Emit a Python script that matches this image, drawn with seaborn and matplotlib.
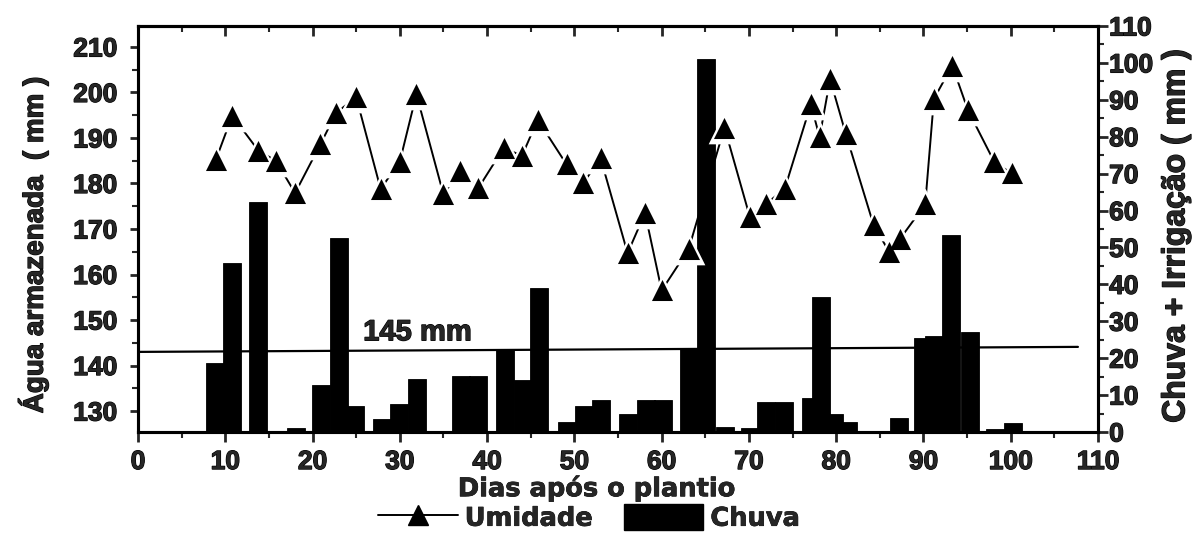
import matplotlib
matplotlib.use("Agg")
import matplotlib.pyplot as plt
import matplotlib.patheffects as pe
import seaborn as sns
from matplotlib.ticker import MultipleLocator
from matplotlib.lines import Line2D
from matplotlib.patches import Patch

# Soil water storage (left axis)
dias_umidade = [8.9, 10.8, 13.8, 15.8, 18.0, 20.9, 22.7, 25.0, 27.8, 30.0,
                31.9, 35.0, 36.9, 39.0, 41.9, 44.0, 45.8, 49.1, 51.0, 53.0,
                56.1, 58.1, 60.0, 63.1, 67.2, 70.1, 72.0, 74.1, 77.1, 78.1,
                79.3, 81.1, 84.3, 86.1, 87.3, 90.2, 91.2, 93.3, 95.1, 98.1,
                100.1]
umidade = [185.1, 194.9, 187.2, 185.0, 177.9, 188.6, 195.5, 199.0, 178.8, 184.8,
           199.6, 177.6, 182.8, 179.0, 187.8, 186.1, 194.0, 184.2, 180.0, 185.6,
           164.7, 173.5, 156.5, 165.6, 192.3, 172.7, 175.6, 178.8, 197.4, 190.2,
           202.9, 190.9, 170.8, 164.9, 167.8, 175.4, 198.6, 205.9, 196.1, 184.8,
           182.2]

# Rain + irrigation (right axis)
dias_chuva = [8.8, 10.8, 13.8, 18.1, 21.0, 23.0, 24.9, 28.0, 29.9, 32.0,
              37.0, 39.0, 42.1, 44.1, 46.0, 49.1, 51.1, 53.1, 56.2, 58.2,
              60.2, 63.1, 65.1, 67.3, 70.1, 72.0, 74.0, 77.1, 78.3, 79.8,
              81.3, 87.2, 90.0, 91.2, 93.2, 95.3, 98.2, 100.3]
chuva = [18.7, 45.8, 62.3, 1.0, 12.7, 52.5, 7.0, 3.5, 7.6, 14.4,
         15.2, 15.2, 22.2, 14.0, 39.0, 2.7, 7.0, 8.7, 5.0, 8.7,
         8.7, 22.8, 101.0, 1.4, 1.0, 8.0, 8.0, 9.2, 36.6, 4.9,
         2.8, 3.8, 25.5, 26.0, 53.4, 27.0, 0.8, 2.4]

# Reference storage line
limite_x = [0.0, 107.7]
limite_y = [143.0, 144.1]
limite_texto = "145 mm"

x_ticks = list(range(0, 111, 10))
y_esq_ticks = list(range(130, 211, 10))
y_dir_ticks = list(range(0, 111, 10))

sns.set_style("ticks")
plt.rcParams["font.family"] = ["Liberation Sans", "DejaVu Sans"]
plt.rcParams["font.weight"] = "bold"
FS_TICK = 19
FS_LAB = 20
WIDE = ["DejaVu Sans"]
heavy = [pe.withStroke(linewidth=0.9, foreground="black")]
heavy_wide = [pe.withStroke(linewidth=0.5, foreground="black")]

fig = plt.figure(figsize=(12.03, 5.34), dpi=100)
ax = fig.add_axes([138 / 1203, 1 - 432 / 534, 960 / 1203, 406 / 534])
ax2 = ax.twinx()

# bars sit behind the moisture line
ax.set_zorder(ax2.get_zorder() + 1)
ax.patch.set_visible(False)

ax2.bar(dias_chuva, chuva, width=2.06, color="black", edgecolor="black",
        linewidth=0.6)

ax.plot(limite_x, limite_y, color="black", lw=1.6)
ax.text(25.8, 147.3, limite_texto, fontsize=FS_LAB + 1, fontweight="bold",
        ha="left", va="center", path_effects=heavy)

sns.lineplot(x=dias_umidade, y=umidade, ax=ax, color="black", lw=1.4,
             sort=False, legend=False)
sns.scatterplot(x=dias_umidade, y=umidade, ax=ax, marker="^", s=520,
                color="white", linewidth=0, legend=False, zorder=3)
sns.scatterplot(x=dias_umidade, y=umidade, ax=ax, marker="^", s=230,
                color="black", linewidth=0, legend=False, zorder=4)

ax.set_xlim(0, 110)
ax.set_ylim(125.4, 214.6)
ax2.set_ylim(0, 110)

ax.set_xticks(x_ticks)
ax.set_yticks(y_esq_ticks)
ax2.set_yticks(y_dir_ticks)
ax.xaxis.set_minor_locator(MultipleLocator(5))
ax.yaxis.set_minor_locator(MultipleLocator(5))
ax2.yaxis.set_minor_locator(MultipleLocator(5))

for a in (ax, ax2):
    for sp in a.spines.values():
        sp.set_visible(True)
        sp.set_linewidth(2.2)
        sp.set_color("black")

ax.tick_params(axis="x", which="major", direction="out", length=7, width=2,
               labelsize=FS_TICK, pad=6)
ax.tick_params(axis="x", which="minor", direction="out", length=4, width=1.5)
ax.tick_params(axis="y", which="major", direction="out", length=6, width=2,
               labelsize=FS_TICK, pad=9)
ax.tick_params(axis="y", which="minor", direction="out", length=4, width=1.5)
ax2.tick_params(axis="y", which="major", direction="out", length=7, width=2,
                labelsize=FS_TICK, pad=1)
ax2.tick_params(axis="y", which="minor", direction="out", length=4, width=1.5)

top = ax.secondary_xaxis("top")
top.set_xticks(x_ticks)
top.xaxis.set_minor_locator(MultipleLocator(5))
top.tick_params(axis="x", which="major", direction="in", length=7, width=2,
                labeltop=False)
top.tick_params(axis="x", which="minor", direction="in", length=4, width=1.5)
top.spines["top"].set_linewidth(2.2)

for lab in ax.get_xticklabels() + ax.get_yticklabels() + ax2.get_yticklabels():
    lab.set_fontweight("bold")
    lab.set_path_effects(heavy)

ax.set_xlabel("Dias após o plantio", fontsize=18.5, fontweight="bold",
              family=WIDE, path_effects=heavy_wide)
ax.xaxis.set_label_coords(0.478, -0.104)
ax.set_ylabel("Água armazenada  ( mm )", fontsize=FS_LAB, fontweight="bold",
              path_effects=heavy)
ax.yaxis.set_label_coords(-0.093, 0.46)
ax2.set_ylabel("Chuva + Irrigação ( mm )", fontsize=FS_LAB + 3,
               fontweight="bold", path_effects=heavy)
ax2.yaxis.set_label_coords(1.066, 0.483)

handles = [
    Line2D([0], [0], color="black", lw=1.4, marker="^", markersize=15),
    Patch(facecolor="black", edgecolor="black"),
]
leg = fig.legend(handles, ["Umidade", "Chuva"], loc="center",
                 bbox_to_anchor=(589 / 1203, 1 - 518 / 534), ncol=2,
                 frameon=False, handlelength=3.1, handleheight=1.15,
                 columnspacing=1.2, handletextpad=0.27, borderpad=0.05,
                 prop={"weight": "bold", "size": 18.5, "family": WIDE})
for t in leg.get_texts():
    t.set_path_effects(heavy_wide)

fig.savefig("out.png", dpi=100)
